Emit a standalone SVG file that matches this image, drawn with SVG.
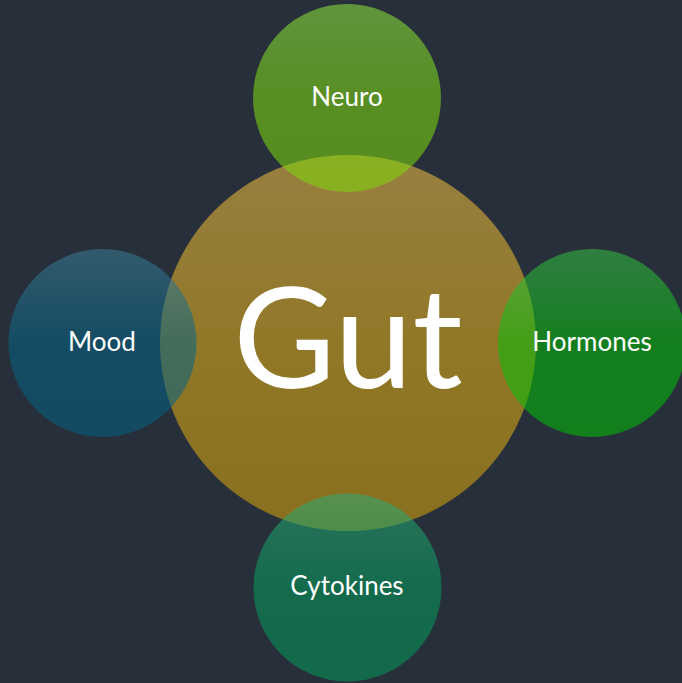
<svg xmlns="http://www.w3.org/2000/svg" width="682" height="683" viewBox="0 0 682 683">
<defs>
<linearGradient id="gGut" x1="0" y1="0" x2="0" y2="1"><stop offset="0" stop-color="#987f40"/><stop offset="0.5" stop-color="#917828"/><stop offset="1" stop-color="#89701e"/></linearGradient>
<linearGradient id="gNeuro" x1="0" y1="0" x2="0" y2="1"><stop offset="0" stop-color="#8fe73e"/><stop offset="0.5" stop-color="#80dc10"/><stop offset="1" stop-color="#7cd808"/></linearGradient>
<linearGradient id="gMood" x1="0" y1="0" x2="0" y2="1"><stop offset="0" stop-color="#3c7d96"/><stop offset="0.5" stop-color="#056385"/><stop offset="1" stop-color="#026083"/></linearGradient>
<linearGradient id="gHorm" x1="0" y1="0" x2="0" y2="1"><stop offset="0" stop-color="#35bf46"/><stop offset="0.5" stop-color="#04bf08"/><stop offset="1" stop-color="#02bf04"/></linearGradient>
<linearGradient id="gCyto" x1="0" y1="0" x2="0" y2="1"><stop offset="0" stop-color="#2dab78"/><stop offset="0.5" stop-color="#039c5c"/><stop offset="1" stop-color="#029a58"/></linearGradient>
</defs>
<style>
.sat{fill-opacity:0.55}
.lbl{font-family:Lato,"Liberation Sans",sans-serif;font-size:26px;fill:#ffffff;text-anchor:middle}
.big{font-family:Lato,"Liberation Sans",sans-serif;font-size:140px;fill:#ffffff;text-anchor:middle}
</style>
<rect width="682" height="683" fill="#27303a"/>
<g id="gut"><circle cx="348" cy="343" r="188" fill="url(#gGut)"/><text class="big" x="348" y="388">Gut</text></g>
<g id="neuro"><circle class="sat" cx="347" cy="98" r="94" fill="url(#gNeuro)"/><text class="lbl" x="347" y="106">Neuro</text></g>
<g id="mood"><circle class="sat" cx="102.5" cy="343" r="94" fill="url(#gMood)"/><text class="lbl" x="102" y="351">Mood</text></g>
<g id="hormones"><circle class="sat" cx="592" cy="343" r="94" fill="url(#gHorm)"/><text class="lbl" x="592" y="351">Hormones</text></g>
<g id="cytokines"><circle class="sat" cx="347.5" cy="587.5" r="94" fill="url(#gCyto)"/><text class="lbl" x="347" y="595">Cytokines</text></g>
<g id="connectors"/>
</svg>
